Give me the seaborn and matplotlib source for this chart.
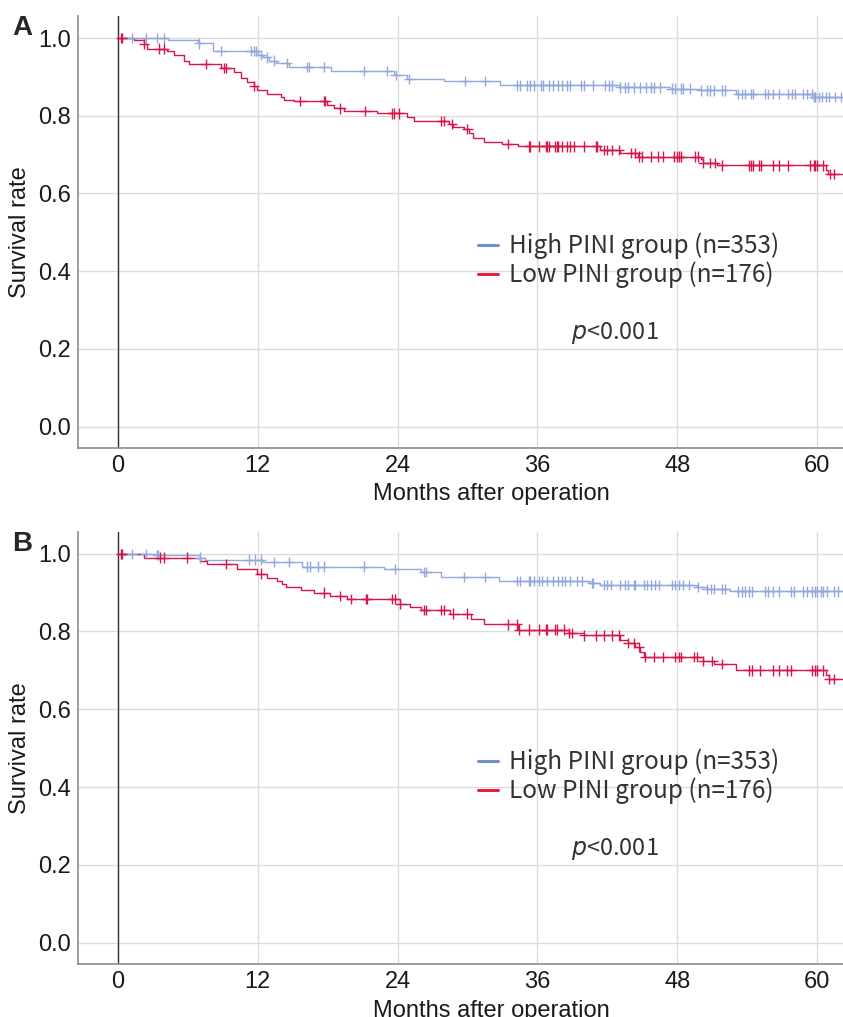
import numpy as np
import pandas as pd
import matplotlib
matplotlib.use('Agg')
import matplotlib.pyplot as plt
import seaborn as sns
from matplotlib.lines import Line2D

# Curvas de Kaplan-Meier (meses, supervivencia)
a_high_t = [4.3, 6.9, 8.2, 12.0, 12.5, 13.0, 13.6, 14.7, 18.3, 23.7, 24.8, 28.0, 32.8, 43.0, 47.4, 50.0, 53.0, 59.7]
a_high_s = [0.995, 0.986, 0.967, 0.956, 0.950, 0.942, 0.935, 0.926, 0.916, 0.905, 0.895, 0.890, 0.878, 0.873, 0.870, 0.865, 0.856, 0.848]
a_high_c = [1.26, 2.46, 3.4, 3.97, 6.97, 8.83, 11.4, 11.68, 11.83, 12.26, 12.83, 13.4, 14.54, 16.25, 16.4, 17.68,
            21.11, 23.11, 23.83, 24.97, 29.8, 31.5, 34.25, 34.5, 35.1, 35.4, 35.7, 36.3, 36.5, 37.0, 37.3, 37.8,
            38.1, 38.5, 38.8, 39.7, 40.0, 40.8, 41.8, 42.1, 42.4, 43.1, 43.5, 43.8, 44.3, 44.8, 45.3, 45.7, 46.0,
            46.5, 47.5, 47.8, 48.3, 48.5, 49.1, 50.0, 50.5, 50.8, 51.1, 51.8, 52.1, 53.2, 53.5, 53.8, 54.3, 54.5,
            55.5, 55.8, 56.2, 56.7, 57.5, 57.8, 58.1, 58.8, 59.1, 59.5, 59.7, 59.8, 60.1, 60.4, 60.7, 61.0, 61.5, 62.0]

a_low_t = [1.4, 2.26, 2.54, 4.26, 4.83, 5.69, 6.11, 8.83, 9.97, 10.54, 11.11, 11.68, 11.97, 12.83, 13.97, 14.25,
           15.1, 17.97, 18.54, 19.4, 22.26, 24.83, 25.4, 28.4, 28.8, 29.7, 30.1, 30.5, 31.4, 33.0, 34.3, 41.4,
           43.1, 44.6, 50.0, 50.2, 51.4, 60.7, 60.9]
a_low_s = [0.995, 0.985, 0.973, 0.967, 0.956, 0.941, 0.933, 0.922, 0.913, 0.896, 0.888, 0.877, 0.866, 0.856, 0.849,
           0.841, 0.838, 0.828, 0.819, 0.812, 0.806, 0.798, 0.787, 0.779, 0.772, 0.765, 0.755, 0.744, 0.733, 0.728,
           0.721, 0.712, 0.704, 0.695, 0.688, 0.679, 0.672, 0.661, 0.650]
a_low_c = [0.26, 0.4, 2.26, 3.54, 3.97, 7.54, 9.11, 9.26, 11.68, 15.68, 17.68, 17.82, 19.11, 21.25, 23.54, 23.68,
           24.11, 27.7, 28.0, 28.7, 30.0, 33.5, 35.25, 35.4, 36.1, 36.7, 36.8, 37.0, 37.5, 37.7, 37.8, 38.1, 38.5,
           38.8, 39.1, 40.0, 41.0, 41.1, 41.7, 42.0, 42.4, 43.0, 44.0, 44.4, 44.7, 45.0, 45.7, 46.3, 46.8, 47.7,
           48.0, 48.1, 48.3, 49.5, 49.8, 50.2, 50.8, 51.2, 51.8, 54.1, 54.3, 54.5, 55.0, 55.2, 56.2, 56.7, 57.5,
           59.4, 59.7, 59.8, 60.0, 60.5, 61.1, 61.4]

b_high_t = [3.4, 7.1, 7.5, 12.5, 15.8, 22.8, 26.0, 27.7, 32.7, 40.5, 41.4, 49.7, 50.5, 52.5]
b_high_s = [0.997, 0.990, 0.985, 0.979, 0.967, 0.961, 0.953, 0.940, 0.930, 0.925, 0.920, 0.914, 0.909, 0.903]
b_high_c = [0.26, 1.26, 2.4, 3.4, 3.5, 7.1, 11.25, 11.8, 12.3, 13.4, 14.7, 16.25, 16.5, 17.2, 17.7, 21.1, 23.8,
            26.25, 26.4, 29.7, 31.5, 34.25, 34.5, 35.25, 35.4, 35.7, 36.1, 36.4, 36.8, 37.3, 37.8, 38.1, 38.4,
            38.8, 39.4, 39.8, 40.7, 40.8, 41.7, 42.0, 42.3, 43.1, 43.5, 43.8, 44.25, 44.4, 45.1, 45.4, 45.7, 46.1,
            46.4, 47.5, 47.8, 48.1, 48.5, 49.0, 49.8, 50.5, 50.9, 51.1, 51.8, 52.1, 53.2, 53.5, 53.8, 54.1, 54.4,
            55.5, 55.8, 56.2, 56.7, 57.7, 58.0, 58.8, 59.1, 59.5, 59.8, 60.0, 60.3, 60.5, 60.8, 61.4, 61.8]

b_low_t = [2.26, 7.1, 7.7, 10.26, 11.97, 12.83, 13.7, 14.1, 14.4, 15.7, 16.8, 18.25, 19.7, 24.25, 25.1, 26.0,
           28.5, 30.3, 31.4, 34.3, 38.7, 40.0, 43.1, 43.8, 44.4, 44.8, 45.1, 50.2, 51.1, 53.0, 60.7, 61.0]
b_low_s = [0.990, 0.981, 0.974, 0.961, 0.949, 0.938, 0.930, 0.921, 0.914, 0.906, 0.900, 0.892, 0.884, 0.871,
           0.864, 0.856, 0.846, 0.833, 0.818, 0.805, 0.797, 0.790, 0.779, 0.770, 0.760, 0.747, 0.734, 0.725,
           0.717, 0.700, 0.689, 0.678]
b_low_c = [0.26, 0.4, 3.6, 4.0, 5.97, 9.26, 12.26, 17.7, 19.1, 20.0, 21.3, 21.4, 23.5, 23.8, 24.25, 26.25, 26.4,
           27.7, 28.0, 28.8, 30.0, 33.5, 34.25, 34.4, 35.25, 36.1, 36.7, 36.8, 37.5, 37.7, 38.25, 38.7, 39.0,
           40.0, 41.0, 41.7, 42.4, 43.0, 43.8, 44.25, 44.7, 45.25, 46.0, 46.8, 47.8, 48.1, 48.3, 49.4, 49.7,
           50.2, 51.0, 51.8, 54.1, 54.4, 55.1, 56.2, 56.7, 57.4, 57.7, 59.5, 59.8, 60.0, 60.5, 61.0, 61.4]

grupos = ['High PINI group (n=353)', 'Low PINI group (n=176)']
col_curva = {grupos[0]: '#93a8dc', grupos[1]: '#d5184c'}
col_leyenda = {grupos[0]: '#6f8fd3', grupos[1]: '#e3233f'}
fin = 62.5


def escalones(t, s, nombre):
    tt = [0.0] + list(t) + [fin]
    ss = [1.0] + list(s) + [s[-1]]
    return pd.DataFrame({'mes': tt, 'sup': ss, 'grupo': nombre})


def censuras(t, s, c, nombre):
    t = np.array(t)
    s = np.array(s)
    ys = []
    for x in c:
        idx = np.searchsorted(t, x, side='right') - 1
        ys.append(1.0 if idx < 0 else s[idx])
    return pd.DataFrame({'mes': c, 'sup': ys, 'grupo': nombre})


paneles = [
    ('A', (a_high_t, a_high_s, a_high_c), (a_low_t, a_low_s, a_low_c)),
    ('B', (b_high_t, b_high_s, b_high_c), (b_low_t, b_low_s, b_low_c)),
]

sns.set_style('whitegrid', {'grid.color': '#dcdcdc', 'axes.edgecolor': '#8c8c8c'})
plt.rcParams['font.family'] = ['Liberation Sans', 'DejaVu Sans']
fuente_jp = ['Noto Sans CJK JP', 'DejaVu Sans']

fig = plt.figure(figsize=(8.43, 10.17), dpi=100)
posiciones = [[0.0925, 0.5595, 0.9075, 0.4245], [0.0925, 0.052, 0.9075, 0.425]]

for (letra, alto, bajo), pos in zip(paneles, posiciones):
    ax = fig.add_axes(pos)
    lineas = pd.concat([escalones(alto[0], alto[1], grupos[0]), escalones(bajo[0], bajo[1], grupos[1])])
    marcas = pd.concat([censuras(*alto, grupos[0]), censuras(*bajo, grupos[1])])
    sns.lineplot(data=lineas, x='mes', y='sup', hue='grupo', palette=col_curva, estimator=None,
                 sort=False, drawstyle='steps-post', linewidth=1.0, legend=False, ax=ax)
    sns.scatterplot(data=marcas, x='mes', y='sup', hue='grupo', palette=col_curva, marker='+',
                    s=55, linewidth=1.0, legend=False, ax=ax, zorder=3)
    ax.axvline(0, color='#333333', linewidth=1.0, zorder=1)
    ax.set_xlim(-3.4, 62.2)
    ax.set_ylim(-0.055, 1.056)
    ax.set_xticks([0, 12, 24, 36, 48, 60])
    ax.set_yticks([0.0, 0.2, 0.4, 0.6, 0.8, 1.0])
    ax.set_yticklabels(['0.0', '0.2', '0.4', '0.6', '0.8', '1.0'])
    ax.tick_params(labelsize=17, length=0, pad=5, labelcolor='#1a1a1a')
    ax.set_xlabel('Months after operation', fontsize=17, color='#1a1a1a')
    ax.set_ylabel('Survival rate', fontsize=17, color='#1a1a1a')
    ax.xaxis.set_label_coords(0.54, -0.082)
    ax.yaxis.set_label_coords(-0.062, 0.5)
    for lado in ['top', 'right']:
        ax.spines[lado].set_visible(False)
    for lado in ['left', 'bottom']:
        ax.spines[lado].set_linewidth(1.2)
    ax.grid(True, linewidth=1.0)

    manijas = [Line2D([0], [0], color=col_leyenda[g], lw=2.2) for g in grupos]
    ax.legend(manijas, grupos, loc='upper left', bbox_to_anchor=(0.5, 0.538), frameon=False,
              handlelength=0.85, handletextpad=0.45, labelspacing=0.1, borderpad=0.2,
              prop={'family': fuente_jp, 'size': 17.5}, labelcolor='#333333')
    ax.text(0.645, 0.252, r'$p$<0.001', transform=ax.transAxes, fontsize=17,
            family=fuente_jp, color='#333333')
    ax.text(-0.086, 0.973, letra, transform=ax.transAxes, fontsize=20, fontweight='bold',
            family=['Liberation Sans', 'DejaVu Sans'], va='center', ha='left')

fig.savefig('out.png', dpi=100)
